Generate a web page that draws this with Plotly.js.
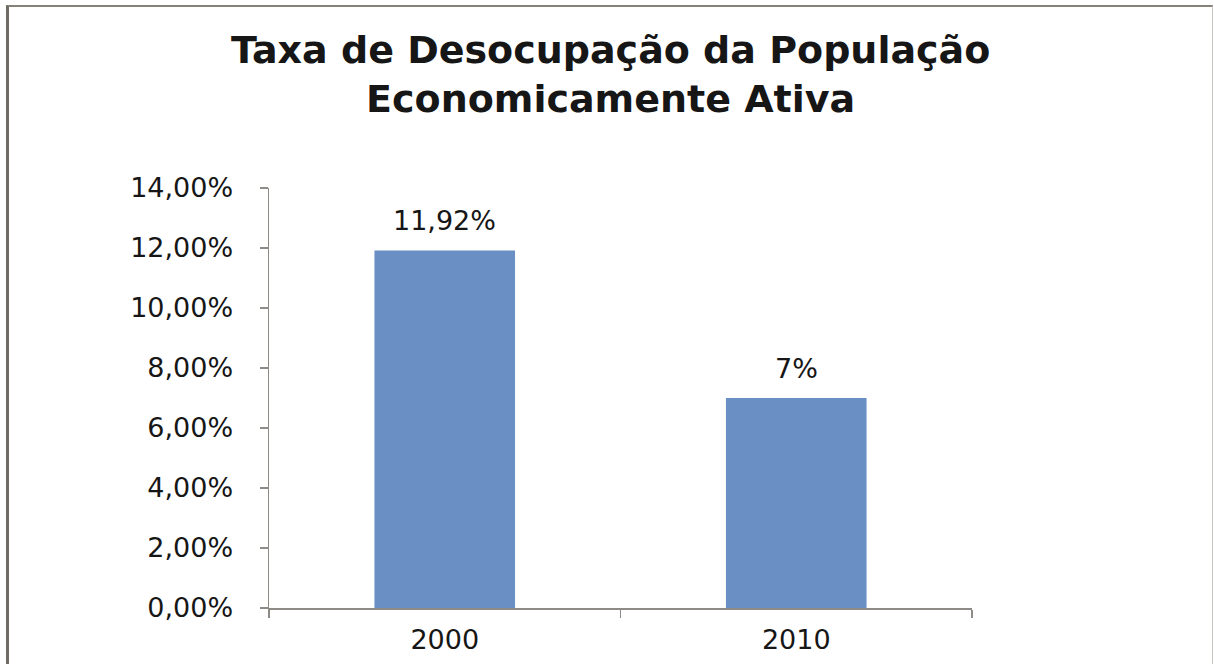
<!DOCTYPE html>
<html>
<head>
<meta charset="utf-8">
<script src="https://cdn.plot.ly/plotly-3.0.1.min.js"></script>
<style>
  html, body { margin: 0; padding: 0; background: #ffffff; }
  #chart { width: 1214px; height: 664px; }
  #frame {
    position: absolute; left: 6px; top: 5px; width: 1203px; height: 700px;
    border-top: 2px solid #878279; border-left: 3px solid #6f6a64; border-right: 1px solid #c9c6c2;
    pointer-events: none;
  }
</style>
</head>
<body>
<div id="chart"></div>
<div id="frame"></div>
<script>
const categories = ["2000", "2010"];
const values = [11.92, 7];
const valueLabels = ["11,92%", "7%"];
const yTickValues = [0, 2, 4, 6, 8, 10, 12, 14];
const yTickLabels = ["0,00%", "2,00%", "4,00%", "6,00%", "8,00%", "10,00%", "12,00%", "14,00%"];
const titleText = "Taxa de Desocupação da População<br>Economicamente Ativa";

const font = "DejaVu Sans, Arial, sans-serif";
const textColor = "#161616";
const axisColor = "#8e8a86";

const trace = {
  type: "bar",
  x: categories,
  y: values,
  marker: { color: "#6a8fc4" },
  hoverinfo: "x+y"
};

const annotations = categories.map((c, i) => ({
  x: i, y: values[i], xref: "x", yref: "y",
  text: valueLabels[i], showarrow: false,
  yanchor: "bottom", yshift: 12,
  font: { family: font, size: 27, color: textColor }
}));

const layout = {
  width: 1214, height: 664,
  paper_bgcolor: "#ffffff", plot_bgcolor: "#ffffff",
  margin: { l: 269, r: 242, t: 188, b: 56, pad: 0 },
  bargap: 0.6,
  showlegend: false,
  title: {
    text: titleText,
    font: { family: font, size: 38, color: textColor, weight: "bold" },
    x: 0.503, xanchor: "center", y: 0.905, yanchor: "top"
  },
  xaxis: {
    type: "category",
    range: [-0.5, 1.5],
    tickangle: 0,
    showline: true, linecolor: axisColor, linewidth: 1.5,
    ticks: "outside", tickson: "boundaries", ticklen: 8, tickcolor: axisColor, tickwidth: 1.5,
    showgrid: false, zeroline: false,
    tickfont: { family: font, size: 27, color: textColor },
    ticklabelstandoff: 7
  },
  yaxis: {
    range: [0, 14],
    tickvals: yTickValues, ticktext: yTickLabels,
    showline: true, linecolor: axisColor, linewidth: 1.5,
    ticks: "outside", ticklen: 8, tickcolor: axisColor, tickwidth: 1.5,
    showgrid: false, zeroline: false,
    tickfont: { family: font, size: 27, color: textColor },
    ticklabelstandoff: 21
  },
  annotations: annotations
};

Plotly.newPlot("chart", [trace], layout, { displayModeBar: false, staticPlot: true });
</script>
</body>
</html>
